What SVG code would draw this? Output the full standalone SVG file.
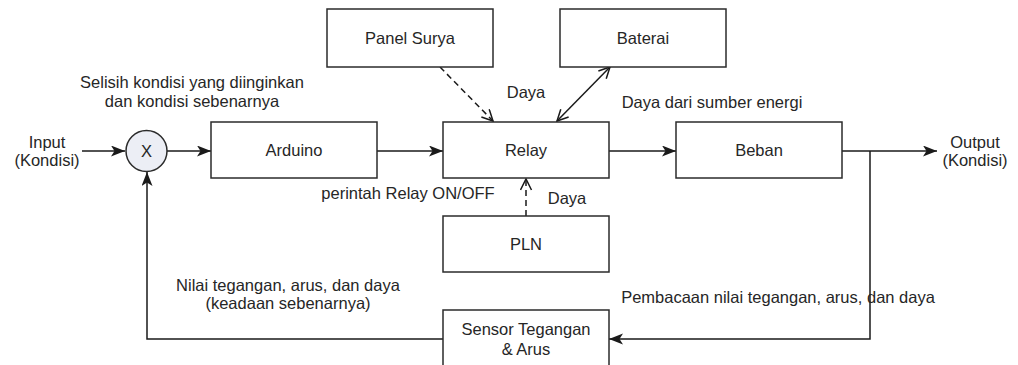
<svg xmlns="http://www.w3.org/2000/svg" width="1018" height="365" viewBox="0 0 1018 365">
<defs>
<style>
.box{fill:#ffffff;stroke:#2b2b2b;stroke-width:1.5}
.t{font-family:"Liberation Sans",Arial,sans-serif;font-size:16.5px;fill:#262626;text-anchor:middle;dominant-baseline:central}
.c{fill:none;stroke:#1a1a1a;stroke-width:1.5}
.d{stroke-dasharray:6,4}
</style>
<marker id="fa" markerUnits="userSpaceOnUse" markerWidth="16" markerHeight="12" refX="14" refY="5.5" orient="auto">
<path d="M0,0 L14,5.5 L0,11 L3.5,5.5 z" fill="#1a1a1a"/>
</marker>
<marker id="oa" markerUnits="userSpaceOnUse" markerWidth="14" markerHeight="14" refX="12" refY="6" orient="auto-start-reverse">
<path d="M1,0.5 L12,6 L1,11.5" fill="none" stroke="#1a1a1a" stroke-width="1.5"/>
</marker>
</defs>
<rect width="1018" height="365" fill="#ffffff"/>
<g id="connectors">
<line class="c" x1="82" y1="151" x2="125" y2="151" marker-end="url(#fa)"/>
<line class="c" x1="167" y1="151" x2="211" y2="151" marker-end="url(#fa)"/>
<line class="c" x1="377" y1="151" x2="443" y2="151" marker-end="url(#fa)"/>
<line class="c" x1="609" y1="151" x2="676" y2="151" marker-end="url(#fa)"/>
<line class="c" x1="842" y1="151" x2="937" y2="151" marker-end="url(#fa)"/>
<polyline class="c" points="870,151 870,339 609,339" marker-end="url(#fa)"/>
<polyline class="c" points="443,339 147,339 147,172" marker-end="url(#fa)"/>
<line class="c d" x1="440" y1="67" x2="493" y2="121" marker-end="url(#oa)"/>
<line class="c" x1="557" y1="121" x2="610" y2="67" marker-start="url(#oa)" marker-end="url(#oa)"/>
<line class="c d" x1="526" y1="216" x2="526" y2="179" marker-end="url(#oa)"/>
</g>
<g id="sum">
<circle cx="146.5" cy="151" r="20.5" fill="#eceef5" stroke="#2b2b2b" stroke-width="1.5"/>
<text class="t" x="146.5" y="151">X</text>
</g>
<g id="arduino"><rect class="box" x="211" y="122" width="166" height="56"/><text class="t" x="294" y="150">Arduino</text></g>
<g id="relay"><rect class="box" x="443" y="122" width="166" height="56"/><text class="t" x="526" y="150">Relay</text></g>
<g id="beban"><rect class="box" x="676" y="122" width="166" height="56"/><text class="t" x="759" y="150">Beban</text></g>
<g id="panel"><rect class="box" x="327" y="9" width="166" height="58"/><text class="t" x="410" y="38">Panel Surya</text></g>
<g id="baterai"><rect class="box" x="560" y="9" width="166" height="58"/><text class="t" x="643" y="38">Baterai</text></g>
<g id="pln"><rect class="box" x="443" y="216" width="166" height="56"/><text class="t" x="526" y="244">PLN</text></g>
<g id="sensor"><rect class="box" x="443" y="310" width="166" height="58"/><text class="t" x="526" y="329">Sensor Tegangan</text><text class="t" x="526" y="349">&amp; Arus</text></g>
<g id="labels">
<text class="t" x="47" y="142">Input</text>
<text class="t" x="47" y="160">(Kondisi)</text>
<text class="t" x="975" y="142">Output</text>
<text class="t" x="975" y="160">(Kondisi)</text>
<text class="t" x="192" y="82">Selisih kondisi yang diinginkan</text>
<text class="t" x="192" y="101">dan kondisi sebenarnya</text>
<text class="t" x="526" y="92">Daya</text>
<text class="t" x="712" y="102">Daya dari sumber energi</text>
<text class="t" x="408" y="193">perintah Relay ON/OFF</text>
<text class="t" x="567" y="198">Daya</text>
<text class="t" x="288" y="285">Nilai tegangan, arus, dan daya</text>
<text class="t" x="288" y="303">(keadaan sebenarnya)</text>
<text class="t" x="778" y="297">Pembacaan nilai tegangan, arus, dan daya</text>
</g>
</svg>
